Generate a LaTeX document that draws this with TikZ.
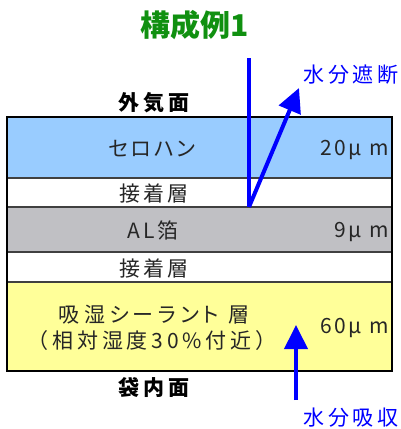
\documentclass[tikz,border=0pt]{standalone}
\usepackage{fontspec}
\newfontfamily\jp[LetterSpace=12]{Noto Sans CJK JP}
\newfontfamily\jpw[LetterSpace=16]{Noto Sans CJK JP}
\newfontfamily\jps[LetterSpace=18]{Noto Sans CJK JP}
\newfontfamily\jpp[LetterSpace=12,RawFeature=+palt]{Noto Sans CJK JP}
\newfontfamily\jppw[LetterSpace=20,RawFeature=+palt]{Noto Sans CJK JP}
\newfontfamily\jpb[LetterSpace=20]{Noto Sans CJK JP}
\newfontfamily\jpt{Noto Sans CJK JP}
\usetikzlibrary{arrows.meta}
\definecolor{celblue}{HTML}{99CCFF}
\definecolor{algray}{HTML}{C0C0C4}
\definecolor{sealyel}{HTML}{FFFF99}
\definecolor{ttlgreen}{HTML}{109010}
\definecolor{sepline}{HTML}{404040}
\tikzset{
  base/.style={text=black!85, inner sep=0pt},
  lbl/.style={base, font=\jpw\fontsize{21}{24}\selectfont},
  boldlbl/.style={font=\jpb\bfseries\fontsize{21}{24}\selectfont, text=black, inner sep=0pt},
  bluelbl/.style={font=\jpw\fontsize{21}{24}\selectfont, text=blue, inner sep=0pt},
  thklbl/.style={base, font=\jp\fontsize{21}{24}\selectfont, anchor=east},
  flow/.style={draw=blue, line width=4pt},
  flowarrow/.style={flow, -{Triangle[length=24pt,width=23pt]}},
  sep/.style={draw=sepline, line width=1.2pt}
}
\begin{document}
\begin{tikzpicture}[x=1pt,y=-1pt]
\useasboundingbox (0,0) rectangle (401,429);
% layers
\fill[celblue] (7,117) rectangle (392,178);
\fill[white] (7,178) rectangle (392,207);
\fill[algray] (7,207) rectangle (392,252);
\fill[white] (7,252) rectangle (392,282);
\fill[sealyel] (7,282) rectangle (392,371);
\draw[sep] (7,178) -- (392,178);
\draw[sep] (7,207) -- (392,207);
\draw[sep] (7,252) -- (392,252);
\draw[sep] (7,282) -- (392,282);
\draw[black, line width=2.2pt] (7,117) rectangle (392,371);
% title
\node[font=\jpt\bfseries\fontsize{30}{34}\selectfont, text=ttlgreen, inner sep=0pt] (title) at (195,25) {構成例1};
\node[boldlbl] (outer) at (154,103) {外気面};
\node[boldlbl] (inner) at (154,388) {袋内面};
% layer labels
\node[base, font=\jpp\fontsize{21}{24}\selectfont] (cello) at (152,149) {セロハン};
\node[thklbl] (t20) at (389,150) {20μ m};
\node[lbl] (adh1) at (154,193) {接着層};
\node[lbl] (al) at (153,230) {AL箔};
\node[thklbl] (t9) at (389,232) {9μ m};
\node[lbl] (adh2) at (154,268) {接着層};
\node[base, font=\jppw\fontsize{21}{24}\selectfont] (seal1) at (154,315) {吸湿シーラント 層};
\node[base, font=\jps\fontsize{21}{24}\selectfont] (seal2) at (152,341) {（相対湿度30\%付近）};
\node[thklbl] (t60) at (389,328) {60μ m};
% arrows
\coordinate (vtop) at (249,58);
\coordinate (vbot) at (249,207);
\coordinate (rtip) at (299,88);
\coordinate (btail) at (296,400);
\coordinate (btip) at (296,325);
\draw[flow] (vtop) -- (vbot);
\draw[flowarrow] (vbot) -- (rtip);
\draw[flowarrow] (btail) -- (btip);
\node[bluelbl] (block) at (351,75) {水分遮断};
\node[bluelbl] (absorb) at (351,418) {水分吸収};
\end{tikzpicture}
\end{document}
